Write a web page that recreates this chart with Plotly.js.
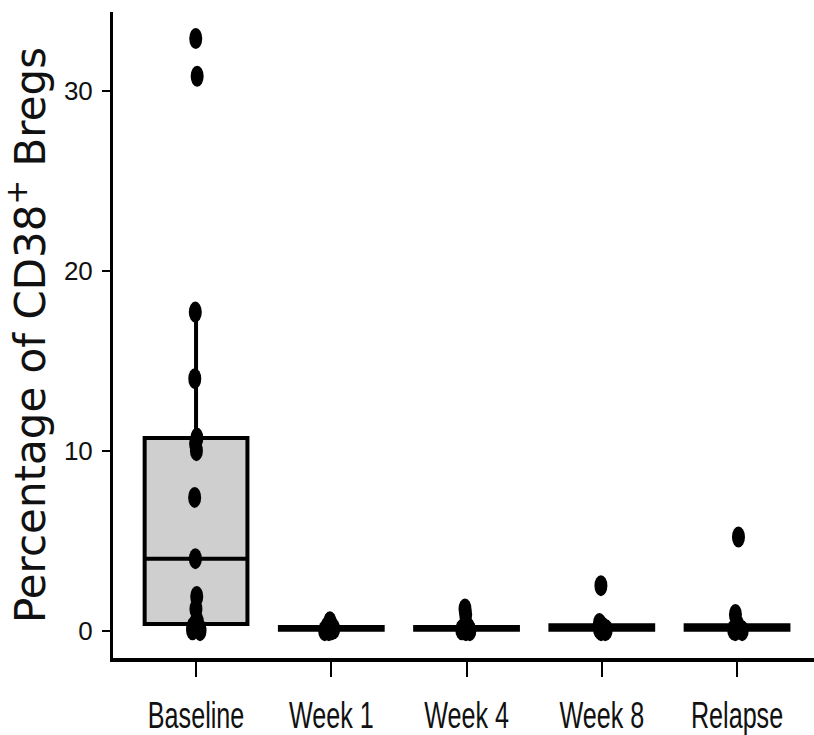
<!DOCTYPE html>
<html>
<head>
<meta charset="utf-8">
<script src="https://cdn.plot.ly/plotly-3.0.1.min.js"></script>
<style>
  html, body { margin: 0; padding: 0; background: #fff; }
  #chart { width: 814px; height: 735px; }
</style>
</head>
<body>
<div id="chart"></div>
<script>
// Time points along the x axis
const categories = ["Baseline", "Week 1", "Week 4", "Week 8", "Relapse"];

// Percentage of CD38+ Bregs per patient at each time point
const baseline = [0.0, 0.05, 0.1, 0.2, 0.37, 0.5, 1.2, 1.9, 4.0, 7.4, 10.0, 10.4, 10.7, 14.0, 17.7, 30.8, 32.9];
const week1    = [0.0, 0.0, 0.05, 0.1, 0.1, 0.15, 0.2, 0.3, 0.5];
const week4    = [0.0, 0.0, 0.05, 0.1, 0.1, 0.15, 0.15, 0.2, 0.9, 1.2];
const week8    = [0.0, 0.0, 0.05, 0.1, 0.15, 0.2, 0.3, 0.4, 2.5];
const relapse  = [0.0, 0.0, 0.05, 0.1, 0.15, 0.2, 0.3, 0.9, 5.2];

// Y axis ticks
const yTicks = [0, 10, 20, 30];

const groups = [baseline, week1, week4, week8, relapse];
const xs = [], ys = [];
groups.forEach((vals, i) => {
  vals.forEach(v => { xs.push(categories[i]); ys.push(v); });
});

const trace = {
  type: "box",
  x: xs,
  y: ys,
  width: 0.76,
  boxpoints: "all",
  jitter: 0.15,
  pointpos: 0,
  whiskerwidth: 0,
  quartilemethod: "inclusive",
  fillcolor: "#cfcfcf",
  line: { color: "#000", width: 4 },
  marker: { color: "#000", size: 13, line: { width: 0 } },
  hoverinfo: "skip",
  showlegend: false
};

const layout = {
  width: 814,
  height: 735,
  margin: { l: 113, r: 0, t: 12, b: 77 },
  paper_bgcolor: "#fff",
  plot_bgcolor: "#fff",
  hovermode: false,
  xaxis: {
    type: "category",
    categoryorder: "array",
    categoryarray: categories,
    range: [-0.614, 4.569],
    showgrid: false,
    zeroline: false,
    showline: true,
    linecolor: "#000",
    linewidth: 3.5,
    ticks: "outside",
    ticklen: 15,
    tickwidth: 2,
    tickcolor: "#000",
    tickangle: 0,
    ticklabelstandoff: 7,
    tickfont: { family: "'Liberation Sans', Arial, sans-serif", size: 37, color: "#111" }
  },
  yaxis: {
    range: [-1.52, 34.37],
    tickvals: yTicks,
    ticktext: yTicks.map(String),
    showgrid: false,
    zeroline: false,
    showline: true,
    linecolor: "#000",
    linewidth: 3,
    ticks: "outside",
    ticklen: 8,
    tickwidth: 2,
    tickcolor: "#000",
    ticklabelstandoff: 4,
    tickfont: { family: "'Liberation Sans', Arial, sans-serif", size: 26, color: "#111" },
    title: {
      text: "Percentage of CD38<sup>+</sup> Bregs",
      font: { family: "'DejaVu Sans', sans-serif", size: 42, color: "#111" },
      standoff: 7
    }
  }
};

Plotly.newPlot("chart", [trace], layout, { displayModeBar: false, staticPlot: true }).then(() => {
  // Dots are drawn as upright ellipses
  const rx = 6.5, ry = 10.5;
  document.querySelectorAll("#chart .point").forEach(p => {
    p.setAttribute("d", `M${rx},0A${rx},${ry} 0 1,1 0,-${ry}A${rx},${ry} 0 0,1 ${rx},0Z`);
  });
  // Category labels use a condensed face
  document.querySelectorAll("#chart .xtick text").forEach(t => {
    const cx = parseFloat(t.getAttribute("x")) || 0;
    const cy = parseFloat(t.getAttribute("y")) || 0;
    const base = t.getAttribute("transform") || "";
    t.setAttribute("transform", `${base} translate(${cx},${cy}) scale(0.68,1) translate(${-cx},${-cy})`);
  });
});
</script>
</body>
</html>
